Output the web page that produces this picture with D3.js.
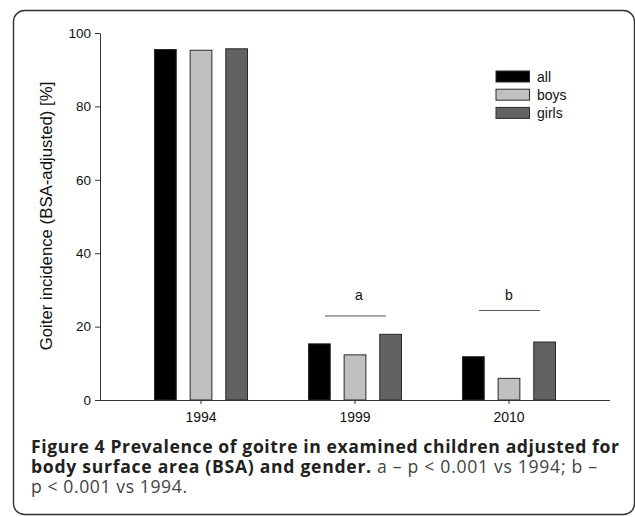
<!DOCTYPE html>
<html lang="en">
<head>
    <meta charset="utf-8">
    <title>Goiter incidence</title>
    <script src="https://d3js.org/d3.v7.min.js"></script>
    <style>
        body { margin: 0; background: #fff; }
    </style>
</head>
<body>
    <script type="text/javascript">

        var w = 635;
        var h = 517;

        // data
        var years = ["1994", "1999", "2010"];
        var groups = ["all", "boys", "girls"];
        var allValues = [95.5, 15.3, 11.8];
        var boysValues = [95.3, 12.3, 5.9];
        var girlsValues = [95.7, 17.9, 15.8];
        var yTicks = [0, 20, 40, 60, 80, 100];
        var sigLabels = [{ year: "1999", label: "a", value: 22.9 },
                         { year: "2010", label: "b", value: 24.4 }];

        var series = [allValues, boysValues, girlsValues];
        var colors = ["#000000", "#c0c0c0", "#626262"];
        var axisFont = "Liberation Sans, Arial, sans-serif";
        var capFont = "Open Sans, Noto Sans, sans-serif";

        var svg = d3.select("body")
            .append("svg")
            .attr("width", w)
            .attr("height", h);

        // frame
        svg.append("rect")
            .attr("x", 13.5)
            .attr("y", 10.5)
            .attr("width", 621)
            .attr("height", 504)
            .attr("rx", 11)
            .attr("fill", "none")
            .attr("stroke", "#333")
            .attr("stroke-width", 1.4);

        var x = d3.scaleBand()
            .domain(years)
            .range([100, 610])
            .paddingInner(0)
            .paddingOuter(0.156);

        var xInner = d3.scaleBand()
            .domain(groups)
            .range([-46.5, 46.5])
            .paddingInner(0.39);

        var y = d3.scaleLinear()
            .domain([0, 100])
            .range([400, 33]);

        function mid(year) { return x(year) + x.bandwidth() / 2; }

        // bars
        var yearG = svg.selectAll("g.year")
            .data(years)
            .enter()
            .append("g")
            .attr("class", "year")
            .attr("transform", function (d) {
                return "translate(" + mid(d) + ",0)";
            });

        yearG.selectAll("rect")
            .data(function (d, i) {
                return groups.map(function (g, j) {
                    return { group: g, value: series[j][i], color: colors[j] };
                });
            })
            .enter()
            .append("rect")
            .attr("x", function (d) { return xInner(d.group); })
            .attr("width", xInner.bandwidth())
            .attr("y", function (d) { return y(d.value); })
            .attr("height", function (d) { return y(0) - y(d.value); })
            .attr("fill", function (d) { return d.color; })
            .attr("stroke", "#2a2a2a")
            .attr("stroke-width", 1);

        // significance markers
        var sig = svg.selectAll("g.sig")
            .data(sigLabels)
            .enter()
            .append("g")
            .attr("class", "sig");

        sig.append("line")
            .attr("x1", function (d) { return mid(d.year) - 30; })
            .attr("x2", function (d) { return mid(d.year) + 31; })
            .attr("y1", function (d) { return y(d.value); })
            .attr("y2", function (d) { return y(d.value); })
            .attr("stroke", "#555")
            .attr("stroke-width", 1);

        sig.append("text")
            .attr("x", function (d, i) { return mid(d.year) + (i === 0 ? 4 : 0); })
            .attr("y", 300)
            .attr("text-anchor", "middle")
            .attr("font-family", axisFont)
            .attr("font-size", 14)
            .attr("fill", "#111")
            .text(function (d) { return d.label; });

        // axes
        var yAxis = d3.axisLeft(y)
            .tickValues(yTicks)
            .tickSize(5)
            .tickSizeOuter(0);

        var gy = svg.append("g")
            .attr("transform", "translate(100,0)")
            .call(yAxis);

        var xAxis = d3.axisBottom(x)
            .tickSize(4)
            .tickSizeOuter(0);

        var gx = svg.append("g")
            .attr("transform", "translate(0,400)")
            .call(xAxis);

        gx.select(".domain").attr("d", "M95,0.5H610");

        svg.selectAll(".tick text")
            .attr("font-family", axisFont)
            .attr("fill", "#111");
        gy.selectAll(".tick text").attr("x", -9).attr("font-size", 13.5);
        gx.selectAll(".tick text").attr("dy", "1.1em").attr("font-size", 14);
        svg.selectAll(".domain, .tick line").attr("stroke", "#333");

        svg.append("text")
            .attr("transform", "translate(52,216) rotate(-90)")
            .attr("text-anchor", "middle")
            .attr("font-family", axisFont)
            .attr("font-size", 16.8)
            .attr("fill", "#111")
            .text("Goiter incidence (BSA-adjusted) [%]");

        // legend
        var legend = svg.selectAll("g.legend")
            .data(groups)
            .enter()
            .append("g")
            .attr("class", "legend")
            .attr("transform", function (d, i) {
                return "translate(496," + (71 + i * 18.2) + ")";
            });

        legend.append("rect")
            .attr("width", 33.5)
            .attr("height", 11)
            .attr("fill", function (d, i) { return colors[i]; })
            .attr("stroke", "#2a2a2a")
            .attr("stroke-width", 1);

        legend.append("text")
            .attr("x", 41)
            .attr("y", 11)
            .attr("font-family", axisFont)
            .attr("font-size", 14)
            .attr("fill", "#111")
            .text(function (d) { return d; });

        // caption, one text per line
        svg.append("text")
            .attr("x", 31).attr("y", 453)
            .attr("font-family", capFont).attr("font-size", 17.6)
            .attr("font-weight", "bold").attr("fill", "#231f20")
            .attr("textLength", 588).attr("lengthAdjust", "spacing")
            .text("Figure 4 Prevalence of goitre in examined children adjusted for");

        var line2 = svg.append("text")
            .attr("x", 31).attr("y", 473)
            .attr("font-family", capFont).attr("font-size", 17.6)
            .attr("textLength", 566).attr("lengthAdjust", "spacing");
        line2.append("tspan").attr("font-weight", "bold").attr("fill", "#231f20")
            .text("body surface area (BSA) and gender.");
        line2.append("tspan").attr("fill", "#444")
            .text(" a \u2013 p < 0.001 vs 1994; b \u2013");

        svg.append("text")
            .attr("x", 31).attr("y", 493)
            .attr("font-family", capFont).attr("font-size", 17.6)
            .attr("fill", "#444")
            .attr("textLength", 156).attr("lengthAdjust", "spacing")
            .text("p < 0.001 vs 1994.");

    </script>
</body>
</html>
